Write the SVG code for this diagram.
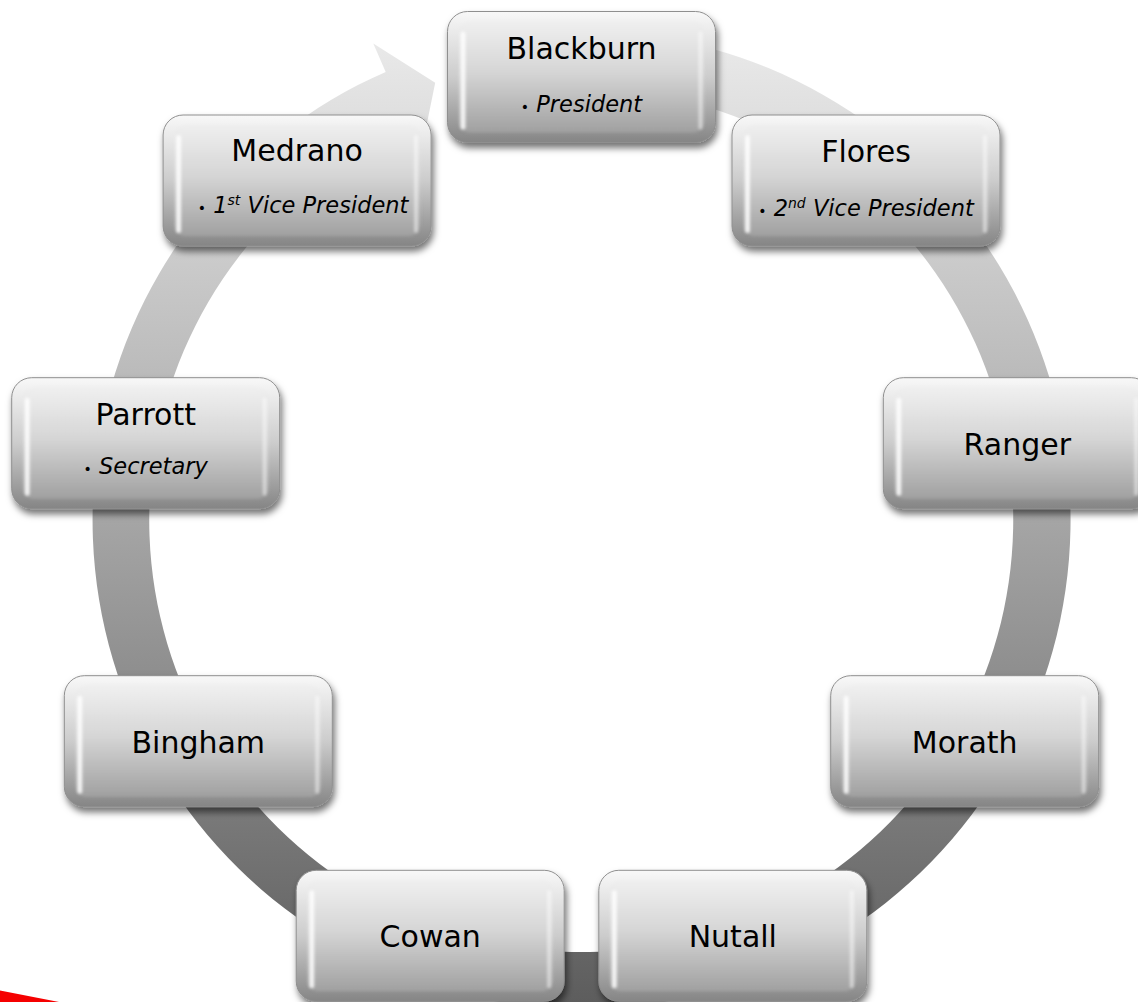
<svg xmlns="http://www.w3.org/2000/svg" width="1138" height="1002" viewBox="0 0 1138 1002">
<style>
 .t{font-family:"DejaVu Sans",Verdana,sans-serif;fill:#000;text-anchor:middle}
 .title{font-size:30px}
 .sub{font-size:22.5px;font-style:italic}
 .sup{font-size:14px}
 .bul{font-size:14px;font-style:normal}
</style>
<defs>
 <linearGradient id="ringG" gradientUnits="userSpaceOnUse" x1="0" y1="30" x2="0" y2="1009">
  <stop offset="0" stop-color="#ebebeb"/>
  <stop offset="0.4" stop-color="#b4b4b4"/>
  <stop offset="1" stop-color="#5c5c5c"/>
 </linearGradient>
 <linearGradient id="gBase" x1="0" y1="0" x2="0" y2="1">
  <stop offset="0" stop-color="#f8f8f8"/>
  <stop offset="0.5" stop-color="#cccccc"/>
  <stop offset="1" stop-color="#858585"/>
 </linearGradient>
 <linearGradient id="gFace" x1="0" y1="0" x2="0" y2="1">
  <stop offset="0" stop-color="#efefef"/>
  <stop offset="0.45" stop-color="#d6d6d6"/>
  <stop offset="1" stop-color="#a0a0a0"/>
 </linearGradient>
 <filter id="shadow" x="-10%" y="-10%" width="125%" height="135%">
  <feDropShadow dx="2" dy="5" stdDeviation="3.5" flood-color="#000" flood-opacity="0.55"/>
 </filter>
 <filter id="soft" x="-5%" y="-5%" width="110%" height="110%"><feGaussianBlur stdDeviation="1.4"/></filter>
 <filter id="glow" x="-150%" y="-10%" width="400%" height="120%"><feGaussianBlur stdDeviation="1.6"/></filter>
 <g id="btn">
  <rect width="268" height="131" rx="20" fill="url(#gBase)" stroke="#8f8f8f" stroke-width="1" filter="url(#shadow)"/>
  <rect x="11" y="10" width="246" height="111" rx="12" fill="url(#gFace)" filter="url(#soft)"/>
  <rect x="13" y="20" width="5" height="98" rx="2.5" fill="#fff" opacity="0.85" filter="url(#glow)"/>
  <rect x="251" y="20" width="4" height="98" rx="2" fill="#fff" opacity="0.5" filter="url(#glow)"/>
 </g>
</defs>

<g id="connectors">
 <path id="cycle-arrow" d="M 496.6 38.4 A 489 489 0 1 1 385.7 71.9 L 373.3 43.5 L 435.2 82.8 L 421.0 152.5 L 408.55 124.1 A 432 432 0 1 0 506.5 94.6 Z" fill="url(#ringG)"/>
</g>

<polygon id="red-corner" points="0,990.5 59,1002 0,1002" fill="#f50000"/>

<g id="node-blackburn" transform="translate(447.5,11.5)">
 <use href="#btn"/>
 <text class="t title" x="134" y="47">Blackburn</text>
 <text class="t sub" x="134" y="100"><tspan class="bul">•</tspan> President</text>
</g>
<g id="node-flores" transform="translate(732,115)">
 <use href="#btn"/>
 <text class="t title" x="134" y="47">Flores</text>
 <text class="t sub" x="134" y="101"><tspan class="bul">•</tspan> 2<tspan class="sup" dy="-8">nd</tspan><tspan dy="8"> Vice President</tspan></text>
</g>
<g id="node-ranger" transform="translate(883.3,377.7)">
 <use href="#btn"/>
 <text class="t title" x="134" y="77">Ranger</text>
</g>
<g id="node-morath" transform="translate(830.7,675.7)">
 <use href="#btn"/>
 <text class="t title" x="134" y="77">Morath</text>
</g>
<g id="node-nutall" transform="translate(598.8,870.3)">
 <use href="#btn"/>
 <text class="t title" x="134" y="77">Nutall</text>
</g>
<g id="node-cowan" transform="translate(296.2,870.3)">
 <use href="#btn"/>
 <text class="t title" x="134" y="77">Cowan</text>
</g>
<g id="node-bingham" transform="translate(64.3,675.7)">
 <use href="#btn"/>
 <text class="t title" x="134" y="77">Bingham</text>
</g>
<g id="node-parrott" transform="translate(11.7,377.7)">
 <use href="#btn"/>
 <text class="t title" x="134" y="47">Parrott</text>
 <text class="t sub" x="134" y="96"><tspan class="bul">•</tspan> Secretary</text>
</g>
<g id="node-medrano" transform="translate(163.1,115)">
 <use href="#btn"/>
 <text class="t title" x="134" y="46">Medrano</text>
 <text class="t sub" x="140" y="98"><tspan class="bul">•</tspan> 1<tspan class="sup" dy="-8">st</tspan><tspan dy="8"> Vice President</tspan></text>
</g>
</svg>
